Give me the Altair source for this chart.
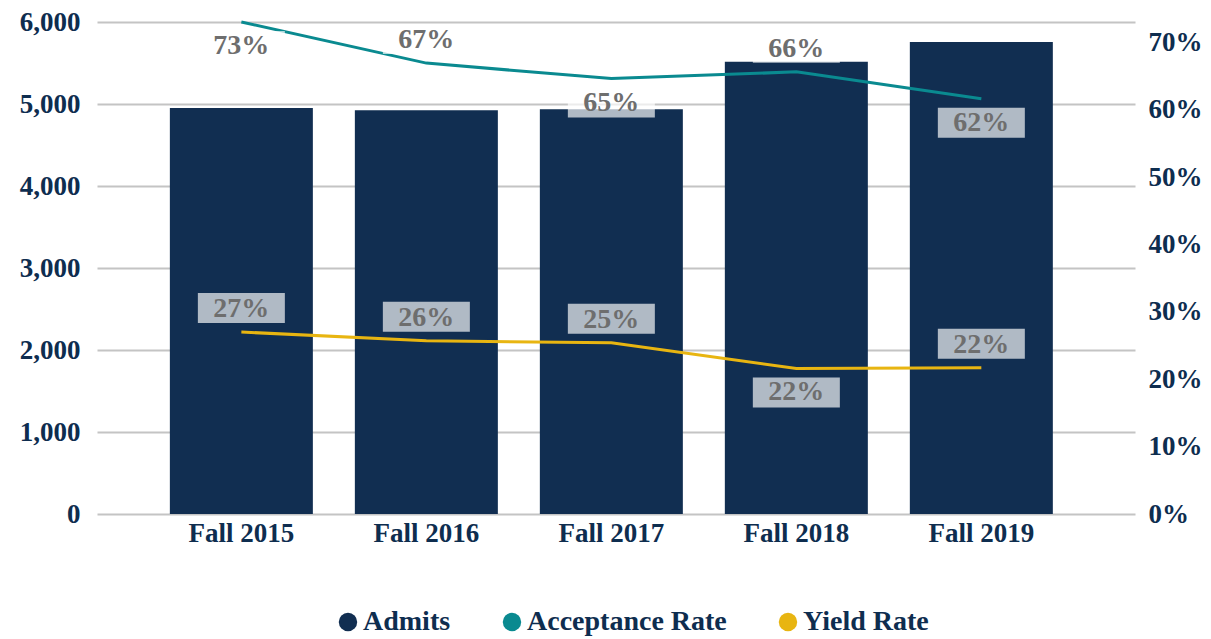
import altair as alt
import pandas as pd

years = ["Fall 2015", "Fall 2016", "Fall 2017", "Fall 2018", "Fall 2019"]
admits = [4950, 4925, 4935, 5515, 5755]
acceptance = [0.730, 0.669, 0.646, 0.656, 0.616]
yield_rate = [0.270, 0.257, 0.254, 0.216, 0.217]
acc_side = ["below", "above", "below", "above", "below"]
yld_side = ["above", "above", "above", "below", "above"]
series_names = ["Admits", "Acceptance Rate", "Yield Rate"]
series_colors = ["#112E51", "#0A8A90", "#E8B511"]
left_ticks = [0, 1000, 2000, 3000, 4000, 5000, 6000]
right_ticks = [0, 0.1, 0.2, 0.3, 0.4, 0.5, 0.6, 0.7]

NAVY = "#0E2D4F"
FONT = "Liberation Serif"

bar_df = pd.DataFrame({"year": years, "admits": admits, "series": "Admits"})
rate_df = pd.concat([
    pd.DataFrame({"year": years, "rate": acceptance, "series": "Acceptance Rate", "side": acc_side}),
    pd.DataFrame({"year": years, "rate": yield_rate, "series": "Yield Rate", "side": yld_side}),
], ignore_index=True)

color_scale = alt.Scale(domain=series_names, range=series_colors)

x_enc = alt.X(
    "year:N", sort=years,
    scale=alt.Scale(paddingInner=0.227, paddingOuter=0.419, align=0.47),
    axis=alt.Axis(title=None, labelAngle=0, ticks=False, domain=False,
                  labelFont=FONT, labelFontSize=27, labelFontWeight="bold",
                  labelColor=NAVY, labelPadding=6),
)

bars = alt.Chart(bar_df).mark_bar().encode(
    x=x_enc,
    y=alt.Y("admits:Q", scale=alt.Scale(domain=[0, 6000], nice=False),
            axis=alt.Axis(orient="left", title=None, values=left_ticks, format=",d",
                          grid=True, gridColor="#C4C4C4", gridWidth=2,
                          domain=False, ticks=False, labelPadding=17,
                          labelFont=FONT, labelFontSize=27, labelFontWeight="bold",
                          labelColor=NAVY)),
    color=alt.Color("series:N", scale=color_scale,
                    legend=alt.Legend(title=None, orient="none", legendX=237, legendY=586,
                                      direction="horizontal", symbolType="circle",
                                      symbolSize=340, symbolStrokeWidth=0,
                                      labelFont=FONT, labelFontSize=28,
                                      labelFontWeight="bold", labelColor=NAVY,
                                      labelLimit=400, labelOffset=1, columnPadding=47)),
)

y_rate = alt.Y("rate:Q", scale=alt.Scale(domain=[0, 0.73], nice=False),
               axis=alt.Axis(orient="right", title=None, values=right_ticks, format=".0%",
                             grid=False, domain=False, ticks=False, labelPadding=13,
                             labelFont=FONT, labelFontSize=27, labelFontWeight="bold",
                             labelColor=NAVY))

lines = alt.Chart(rate_df).mark_line(strokeWidth=3).encode(
    x=x_enc, y=y_rate,
    color=alt.Color("series:N", scale=color_scale, legend=None),
)

# label background boxes (semi-transparent white, 87x30 px)
PATH_ABOVE = "M-1,-0.8966 L1,-0.8966 L1,-0.2069 L-1,-0.2069 Z"
PATH_BELOW = "M-1,0.2069 L1,0.2069 L1,0.8966 L-1,0.8966 Z"

def boxes(side, path):
    return alt.Chart(rate_df).transform_filter(alt.datum.side == side).mark_point(
        shape=path, size=7569, filled=True, fill="white", fillOpacity=0.67,
        strokeWidth=0, opacity=1,
    ).encode(x=x_enc, y=y_rate)

def labels(side, dy):
    return alt.Chart(rate_df).transform_filter(alt.datum.side == side).mark_text(
        dy=dy, font=FONT, fontSize=28, fontWeight="bold", color="#6E6E6E",
        baseline="middle", align="center",
    ).encode(x=x_enc, y=y_rate, text=alt.Text("rate:Q", format=".0%"))

rates = alt.layer(
    lines,
    boxes("above", PATH_ABOVE), boxes("below", PATH_BELOW),
    labels("above", -23), labels("below", 24),
)

chart = alt.layer(bars, rates).resolve_scale(y="independent").properties(
    width=1038, height=492,
    background="white",
    autosize=alt.AutoSizeParams(type="none"),
    padding={"left": 89, "top": 14, "right": 68, "bottom": 124},
).configure_view(stroke=None, strokeWidth=0)

chart.save("out.html", embed_options={"renderer": "svg", "actions": False})
